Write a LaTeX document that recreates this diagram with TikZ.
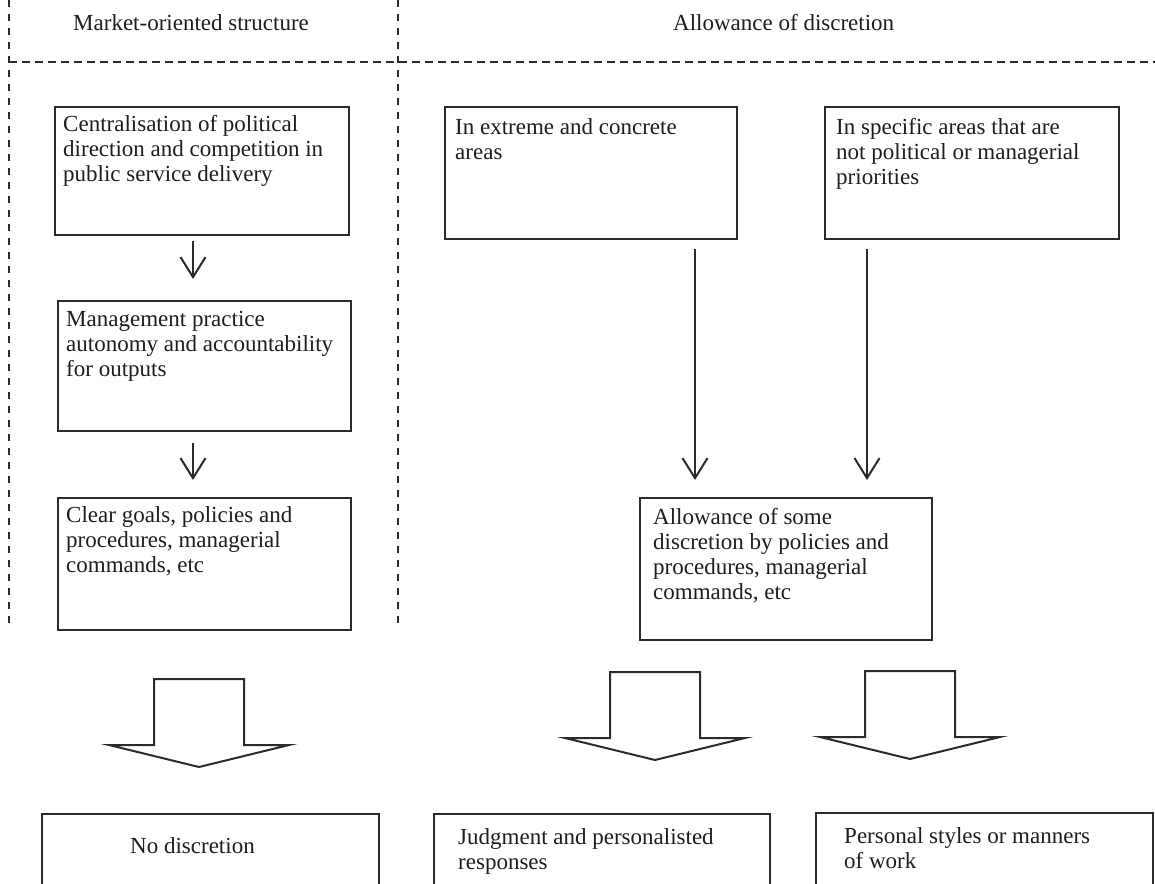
\documentclass[tikz,border=0pt]{standalone}
\usepackage{fontspec}
\setmainfont{Liberation Serif}
\usetikzlibrary{arrows.meta,calc}
\definecolor{ln}{HTML}{2B2B2B}
\definecolor{tx}{HTML}{1E1E1E}
\newcommand{\dfs}{\fontsize{23}{25}\selectfont}
\begin{document}
\begin{tikzpicture}[x=1pt,y=-1pt,
  box/.style={draw=ln, line width=2pt, rectangle, inner sep=0pt, anchor=north west},
  txt/.style={font=\dfs, text=tx, align=left, inner sep=0pt, anchor=north west},
  dline/.style={draw=ln, line width=1.8pt},
  arr/.style={draw=ln, line width=2pt, -{Straight Barb[length=20pt,width=25pt]}},
  blk/.style={draw=ln, line width=2pt, fill=white, line join=miter},
  blockarr/.pic={\draw[blk] (-45,0) -- (45,0) -- (45,66) -- (90,66) -- (0,88) -- (-90,66) -- (-45,66) -- cycle;}
]
\useasboundingbox (0,0) rectangle (1155,883);
\clip (0,0) rectangle (1155,883);
\fill[white] (0,0) rectangle (1155,883);

% dashed frame
\coordinate (vl1) at (9,0);   \coordinate (vl2) at (9,630);
\coordinate (vm1) at (398,0); \coordinate (vm2) at (398,630);
\coordinate (h1) at (9,62);   \coordinate (h2) at (1155,62);
\draw[dline, dash pattern=on 7pt off 7pt] (vl1) -- (vl2);
\draw[dline, dash pattern=on 7pt off 7pt] (vm1) -- (vm2);
\draw[dline, dash pattern=on 8pt off 5pt] (h1) -- (h2);

% titles
\node[txt] (title1) at (73,14) {Market-oriented structure};
\node[txt] (title2) at (673,14) {Allowance of discretion};

% left column
\node[box, minimum width=294pt, minimum height=128pt] (b1) at (54,106) {};
\node[txt] (t1) at (63,115) {Centralisation of political\\direction and competition in\\public service delivery};
\node[box, minimum width=293pt, minimum height=130pt] (b2) at (57,300) {};
\node[txt] (t2) at (66,311) {Management practice\\autonomy and accountability\\for outputs};
\node[box, minimum width=293pt, minimum height=132pt] (b3) at (57,497) {};
\node[txt] (t3) at (66,506) {Clear goals, policies and\\procedures, managerial\\commands, etc};

\coordinate (a1s) at (193,241); \coordinate (a1e) at (193,279);
\coordinate (a2s) at (193,443); \coordinate (a2e) at (193,480);
\draw[arr] (a1s) -- (a1e);
\draw[arr] (a2s) -- (a2e);

% right column
\node[box, minimum width=292pt, minimum height=132pt] (r1) at (444,106) {};
\node[txt] (tr1) at (455,118) {In extreme and concrete\\areas};
\node[box, minimum width=294pt, minimum height=132pt] (r2) at (824,106) {};
\node[txt] (tr2) at (836,118) {In specific areas that are\\not political or managerial\\priorities};

\coordinate (la1) at (695,249); \coordinate (la2) at (695,480);
\coordinate (lb1) at (867,249); \coordinate (lb2) at (867,480);
\draw[arr] (la1) -- (la2);
\draw[arr] (lb1) -- (lb2);

\node[box, minimum width=292pt, minimum height=142pt] (m) at (639,497) {};
\node[txt] (tm) at (653,508) {Allowance of some\\discretion by policies and\\procedures, managerial\\commands, etc};

% block arrows
\pic at (199,679) {blockarr};
\pic at (655,672) {blockarr};
\pic at (910,671) {blockarr};

% bottom boxes
\node[box, minimum width=337pt, minimum height=120pt] (o1) at (41,813) {};
\node[txt] (to1) at (130,837) {No discretion};
\node[box, minimum width=336pt, minimum height=120pt] (o2) at (433,813) {};
\node[txt] (to2) at (458,828) {Judgment and personalisted\\responses};
\node[box, minimum width=337pt, minimum height=120pt] (o3) at (815,812) {};
\node[txt] (to3) at (844,827) {Personal styles or manners\\of work};
\end{tikzpicture}
\end{document}
